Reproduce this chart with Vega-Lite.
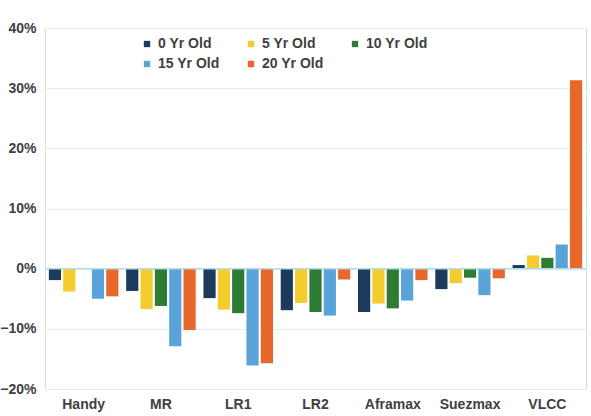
{
  "$schema": "https://vega.github.io/schema/vega-lite/v6.json",
  "width": 541,
  "height": 361,
  "autosize": {"type": "none"},
  "padding": {"left": 45, "top": 28, "right": 5, "bottom": 27},
  "background": "white",
  "data": {
    "values": [
      {"vessel": "Handy", "age": "0 Yr Old", "change": -0.019},
      {"vessel": "Handy", "age": "5 Yr Old", "change": -0.038},
      {"vessel": "Handy", "age": "10 Yr Old", "change": 0.0},
      {"vessel": "Handy", "age": "15 Yr Old", "change": -0.050},
      {"vessel": "Handy", "age": "20 Yr Old", "change": -0.046},
      {"vessel": "MR", "age": "0 Yr Old", "change": -0.037},
      {"vessel": "MR", "age": "5 Yr Old", "change": -0.067},
      {"vessel": "MR", "age": "10 Yr Old", "change": -0.062},
      {"vessel": "MR", "age": "15 Yr Old", "change": -0.129},
      {"vessel": "MR", "age": "20 Yr Old", "change": -0.102},
      {"vessel": "LR1", "age": "0 Yr Old", "change": -0.049},
      {"vessel": "LR1", "age": "5 Yr Old", "change": -0.068},
      {"vessel": "LR1", "age": "10 Yr Old", "change": -0.074},
      {"vessel": "LR1", "age": "15 Yr Old", "change": -0.161},
      {"vessel": "LR1", "age": "20 Yr Old", "change": -0.157},
      {"vessel": "LR2", "age": "0 Yr Old", "change": -0.069},
      {"vessel": "LR2", "age": "5 Yr Old", "change": -0.057},
      {"vessel": "LR2", "age": "10 Yr Old", "change": -0.072},
      {"vessel": "LR2", "age": "15 Yr Old", "change": -0.078},
      {"vessel": "LR2", "age": "20 Yr Old", "change": -0.018},
      {"vessel": "Aframax", "age": "0 Yr Old", "change": -0.072},
      {"vessel": "Aframax", "age": "5 Yr Old", "change": -0.058},
      {"vessel": "Aframax", "age": "10 Yr Old", "change": -0.066},
      {"vessel": "Aframax", "age": "15 Yr Old", "change": -0.053},
      {"vessel": "Aframax", "age": "20 Yr Old", "change": -0.019},
      {"vessel": "Suezmax", "age": "0 Yr Old", "change": -0.034},
      {"vessel": "Suezmax", "age": "5 Yr Old", "change": -0.024},
      {"vessel": "Suezmax", "age": "10 Yr Old", "change": -0.015},
      {"vessel": "Suezmax", "age": "15 Yr Old", "change": -0.044},
      {"vessel": "Suezmax", "age": "20 Yr Old", "change": -0.016},
      {"vessel": "VLCC", "age": "0 Yr Old", "change": 0.006},
      {"vessel": "VLCC", "age": "5 Yr Old", "change": 0.022},
      {"vessel": "VLCC", "age": "10 Yr Old", "change": 0.018},
      {"vessel": "VLCC", "age": "15 Yr Old", "change": 0.040},
      {"vessel": "VLCC", "age": "20 Yr Old", "change": 0.313}
    ]
  },
  "layer": [
    {
      "mark": {"type": "bar"},
      "encoding": {
        "x": {
          "field": "vessel",
          "type": "nominal",
          "sort": null,
          "scale": {"paddingInner": 0.1, "paddingOuter": 0.05},
          "axis": {
            "title": null,
            "labelAngle": 0,
            "domain": false,
            "ticks": false,
            "labelPadding": 8,
            "labelFont": "Liberation Sans",
            "labelFontSize": 14,
            "labelFontWeight": "bold",
            "labelColor": "#404040"
          }
        },
        "xOffset": {
          "field": "age",
          "type": "nominal",
          "sort": ["0 Yr Old", "5 Yr Old", "10 Yr Old", "15 Yr Old", "20 Yr Old"],
          "scale": {"paddingInner": 0.15}
        },
        "y": {
          "field": "change",
          "type": "quantitative",
          "scale": {"domain": [-0.2, 0.4], "nice": false},
          "axis": {
            "title": null,
            "format": ".0%",
            "values": [-0.2, -0.1, 0, 0.1, 0.2, 0.3, 0.4],
            "domain": false,
            "ticks": false,
            "labelPadding": 9,
            "labelFont": "Liberation Sans",
            "labelFontSize": 14,
            "labelFontWeight": "bold",
            "labelColor": "#404040",
            "gridColor": "#e3ecef",
            "gridWidth": 1
          }
        },
        "color": {
          "field": "age",
          "type": "nominal",
          "sort": ["0 Yr Old", "5 Yr Old", "10 Yr Old", "15 Yr Old", "20 Yr Old"],
          "scale": {
            "domain": ["0 Yr Old", "5 Yr Old", "10 Yr Old", "15 Yr Old", "20 Yr Old"],
            "range": ["#1b3a5c", "#f4cc2e", "#2e7b34", "#5aa3d8", "#e8672a"]
          },
          "legend": {
            "title": null,
            "orient": "none",
            "legendX": 95,
            "legendY": 9,
            "direction": "horizontal",
            "columns": 3,
            "columnPadding": 24,
            "rowPadding": 6,
            "symbolType": "square",
            "symbolSize": 40,
            "symbolOffset": 0,
            "labelOffset": 4,
            "labelFont": "Liberation Sans",
            "labelFontSize": 14,
            "labelFontWeight": "bold",
            "labelColor": "#404040"
          }
        }
      }
    },
    {
      "data": {"values": [{"y": 0}]},
      "mark": {"type": "rule", "color": "#b3dfe9", "strokeWidth": 1.5},
      "encoding": {"y": {"field": "y", "type": "quantitative"}}
    }
  ]
}
